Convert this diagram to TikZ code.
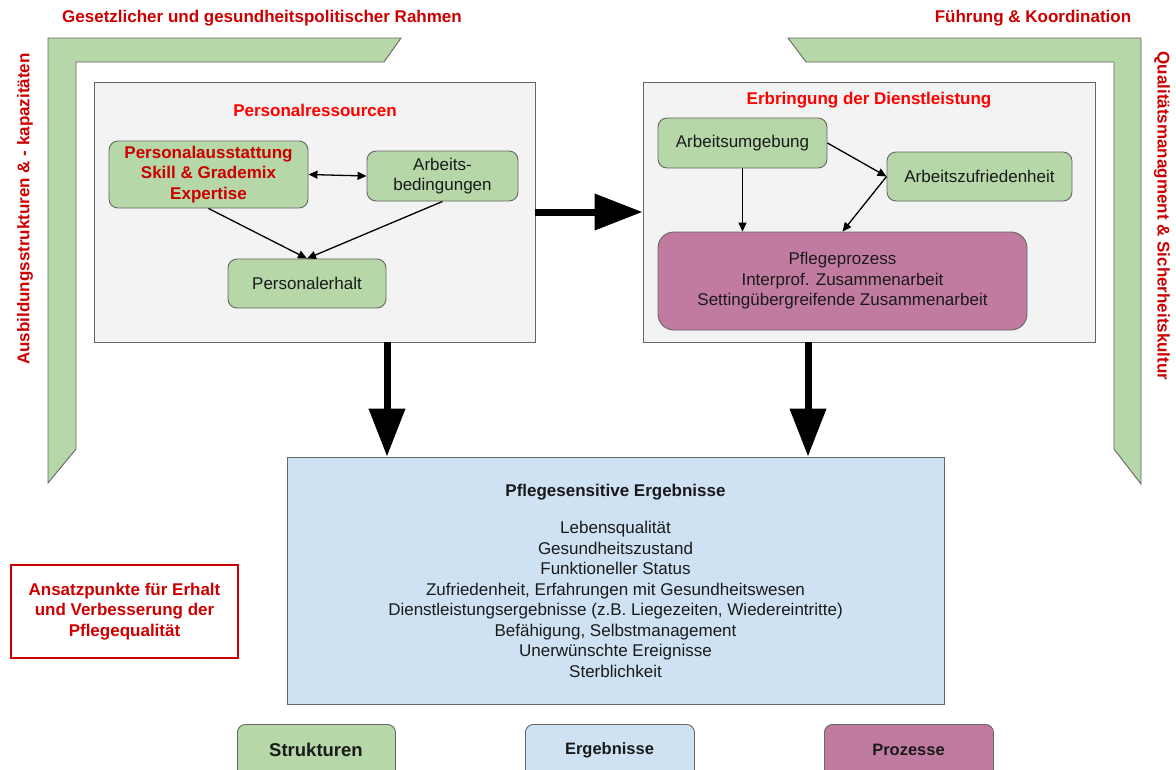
\documentclass[tikz,border=0pt]{standalone}
\usepackage{fontspec}
\setmainfont{Liberation Sans}
\usetikzlibrary{arrows.meta,calc}
\definecolor{gfill}{HTML}{B6D7A8}
\definecolor{bfill}{HTML}{CFE2F3}
\definecolor{pfill}{HTML}{C27BA0}
\definecolor{greyfill}{HTML}{F3F3F3}
\definecolor{edge}{HTML}{666666}
\definecolor{darkred}{HTML}{CC0000}
\definecolor{brightred}{HTML}{FF0000}
\definecolor{txt}{HTML}{1A1A1A}
\tikzset{
  basefont/.style={font=\fontsize{17}{20.5}\selectfont},
  boldfont/.style={font=\fontsize{17}{20.5}\selectfont\bfseries},
  bracket/.style={draw=edge, fill=gfill, line width=0.9pt},
  panel/.style={draw=edge, fill=greyfill, line width=0.9pt, inner sep=0pt},
  gbox/.style={draw=edge, fill=gfill, rounded corners=9pt, line width=0.9pt, align=center, inner sep=0pt, text=txt, basefont},
  pbox/.style={draw=edge, fill=pfill, rounded corners=16pt, line width=0.9pt, align=center, inner sep=0pt, text=txt, basefont},
  bbox/.style={draw=edge, fill=bfill, line width=0.9pt, align=center, inner sep=0pt, text=txt, basefont},
  legbox/.style={draw=edge, rounded corners=8pt, line width=0.9pt, inner sep=0pt, anchor=north west},
  thin/.style={line width=1.3pt, -{Triangle[length=9pt,width=8pt]}},
  thick/.style={line width=7pt, -{Triangle[length=48pt 0,width=35pt 0]}},
  title/.style={text=darkred, boldfont},
}
\begin{document}
\begin{tikzpicture}[x=1pt,y=-1pt]
\useasboundingbox (0,0) rectangle (1176,769);
\clip (0,0) rectangle (1176,769);
\fill[white] (0,0) rectangle (1176,769);

% brackets
\draw[bracket] (48,38) -- (401,38) -- (384,62) -- (76,62) -- (76,449) -- (48,483) -- cycle;
\draw[bracket] (788,38) -- (1141,38) -- (1141,484) -- (1114,449) -- (1114,62) -- (806,62) -- cycle;

% outer labels
\node[title] (tl) at (262,18) {Gesetzlicher und gesundheitspolitischer Rahmen};
\node[title] (tr) at (1033,18) {Führung \& Koordination};
\node[title, rotate=90] (vl) at (25,209) {Ausbildungsstrukturen \& - kapazitäten};
\node[title, rotate=-90] (vr) at (1162,216) {Qualitätsmanagment \& Sicherheitskultur};

% panels
\node[panel, minimum width=441pt, minimum height=260pt] (lp) at (314.5,212) {};
\node[panel, minimum width=452pt, minimum height=260pt] (rp) at (869,212) {};
\node[text=brightred, boldfont] (lpt) at (315,110) {Personalressourcen};
\node[text=brightred, boldfont] (rpt) at (869,100) {Erbringung der Dienstleistung};

% left panel boxes
\node[gbox, minimum width=199pt, minimum height=67pt, text=darkred, boldfont] (pa) at (208.5,174.5) {Personalausstattung\\Skill \& Grademix\\Expertise};
\node[gbox, minimum width=151pt, minimum height=50pt] (ab) at (442.5,176) {Arbeits-\\bedingungen};
\node[gbox, minimum width=158pt, minimum height=49pt] (pe) at (307,283.5) {Personalerhalt};

\draw[line width=1.3pt, {Triangle[length=9pt,width=8pt]}-{Triangle[length=9pt,width=8pt]}] (pa.east) -- (ab.west);
\draw[thin] (pa.south) -- (pe.north);
\draw[thin] (ab.south) -- (pe.north);

% right panel boxes
\node[gbox, minimum width=169pt, minimum height=50pt] (au) at (742.5,143) {Arbeitsumgebung};
\node[gbox, minimum width=185pt, minimum height=49pt] (az) at (979.5,176.5) {Arbeitszufriedenheit};
\node[pbox, minimum width=369pt, minimum height=98pt] (pp) at (842.5,281) {Pflegeprozess\\Interprof. Zusammenarbeit\\Settingübergreifende Zusammenarbeit};

\draw[thin] (au.east) -- (az.west);
\draw[thin] (au.south) -- (au.south |- pp.north);
\draw[thin] (az.west) -- (pp.north);

% outcomes
\node[bbox, minimum width=657pt, minimum height=247pt] (bl) at (615.5,580.5) {\textbf{Pflegesensitive Ergebnisse}\\[17pt]Lebensqualität\\Gesundheitszustand\\Funktioneller Status\\Zufriedenheit, Erfahrungen mit Gesundheitswesen\\Dienstleistungsergebnisse (z.B. Liegezeiten, Wiedereintritte)\\Befähigung, Selbstmanagement\\Unerwünschte Ereignisse\\Sterblichkeit};

% big arrows
\coordinate (dl) at (387,0);
\coordinate (dr) at (808,0);
\draw[thick] (lp.east) -- (rp.west);
\draw[thick] (lp.south -| dl) -- (bl.north -| dl);
\draw[thick] (rp.south -| dr) -- (bl.north -| dr);

% red note
\node[draw=darkred, line width=1.5pt, minimum width=227pt, minimum height=93pt, align=center, text=darkred, boldfont, inner sep=0pt] (note) at (124.5,611.5) {Ansatzpunkte für Erhalt\\und Verbesserung der\\Pflegequalität};

% legend
\node[legbox, fill=gfill, minimum width=158pt, minimum height=70pt] (ls) at (237,724) {};
\node[legbox, fill=bfill, minimum width=169pt, minimum height=70pt] (le) at (525,724) {};
\node[legbox, fill=pfill, minimum width=169pt, minimum height=70pt] (lpz) at (824,724) {};
\node[font=\fontsize{18.5}{20}\selectfont\bfseries, text=txt] (lst) at (316,750) {Strukturen};
\node[font=\fontsize{16.5}{20}\selectfont\bfseries, text=txt] (let) at (609.5,750) {Ergebnisse};
\node[font=\fontsize{16.5}{20}\selectfont\bfseries, text=txt] (lpt2) at (908.5,750) {Prozesse};
\end{tikzpicture}
\end{document}
